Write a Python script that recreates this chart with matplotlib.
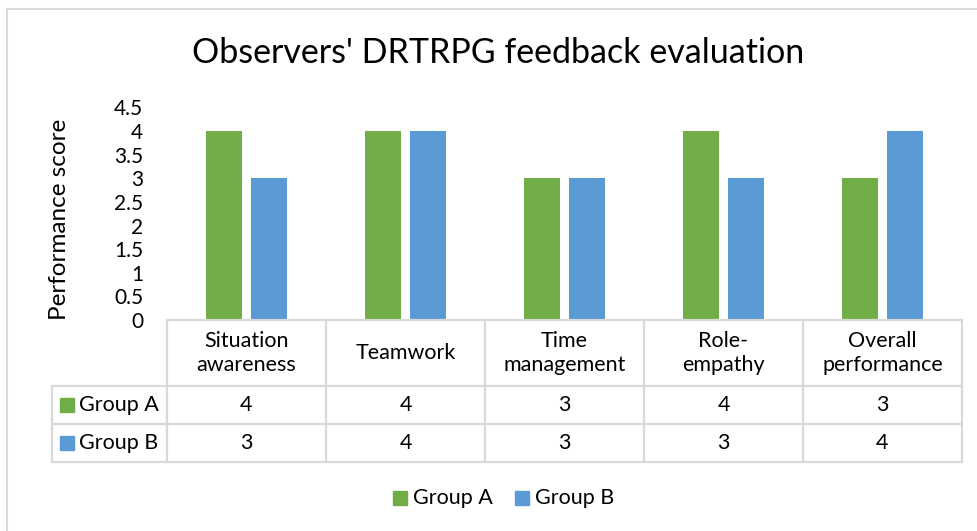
import matplotlib
matplotlib.use("Agg")
import matplotlib.pyplot as plt
import matplotlib.transforms as mtransforms
from matplotlib.lines import Line2D
from matplotlib.patches import Rectangle
import numpy as np

# ---- data ----
categories = ["Situation\nawareness", "Teamwork", "Time\nmanagement", "Role-\nempathy", "Overall\nperformance"]
series_names = ["Group A", "Group B"]
group_a = [4, 4, 3, 4, 3]
group_b = [3, 4, 3, 3, 4]
yticks = [0, 0.5, 1, 1.5, 2, 2.5, 3, 3.5, 4, 4.5]
title = "Observers' DRTRPG feedback evaluation"
ylabel = "Performance score"

green = "#70AD47"
blue = "#5B9BD5"
grid_c = "#D9D9D9"
text_c = "#000000"

plt.rcParams["font.family"] = ["Lato", "DejaVu Sans"]

W, H = 978, 531
fig = plt.figure(figsize=(W / 100, H / 100), dpi=100)

def fx(px):
    return px / W

def fy(py):
    return 1 - py / H

# plot area
ax_l, ax_r, ax_t, ax_b = 167, 962, 107.4, 320
ax = fig.add_axes([fx(ax_l), fy(ax_b), fx(ax_r - ax_l), (ax_b - ax_t) / H])

x = np.arange(len(categories))
bw = 0.2264
off = 0.1415
ax.bar(x - off, group_a, width=bw, color=green, zorder=3)
ax.bar(x + off, group_b, width=bw, color=blue, zorder=3)

ax.set_xlim(-0.5, len(categories) - 0.5)
ax.set_ylim(0, 4.5)
ax.set_yticks(yticks)
ax.set_yticklabels([f"{t:g}" for t in yticks], fontsize=15)
ax.tick_params(axis="y", length=0, pad=17)
ax.set_xticks([])
for s in ax.spines.values():
    s.set_visible(False)
ax.patch.set_alpha(0)

fig.text(fx(60), fy(219), ylabel, rotation=90, ha="center", va="center",
         fontsize=17.5, color=text_c)

fig.text(fx(498), fy(53), title, ha="center", va="center", fontsize=24.5, color=text_c)

# ---- data table under the axis ----
bt = mtransforms.blended_transform_factory(ax.transData, fig.transFigure)
row_tops = [320, 386, 424, 462]
lbl_left = 52
lw = 1.6

def hline(y, x0_fig, x1_fig):
    fig.add_artist(Line2D([x0_fig, x1_fig], [fy(y), fy(y)], color=grid_c, lw=lw,
                          transform=fig.transFigure))

# horizontal lines
hline(row_tops[0], fx(ax_l), fx(ax_r))
for y in row_tops[1:]:
    hline(y, fx(lbl_left), fx(ax_r))

# vertical lines between categories
for i in range(len(categories) + 1):
    xv = i - 0.5
    fig.add_artist(Line2D([xv, xv], [fy(row_tops[0]), fy(row_tops[-1])], color=grid_c,
                          lw=lw, transform=bt))
fig.add_artist(Line2D([fx(lbl_left), fx(lbl_left)], [fy(row_tops[1]), fy(row_tops[-1])],
                      color=grid_c, lw=lw, transform=fig.transFigure))

cell_fs = 15.5
for i, c in enumerate(categories):
    fig.text(i, fy((row_tops[0] + row_tops[1]) / 2), c, transform=bt, ha="center",
             va="center", fontsize=cell_fs, color=text_c, linespacing=1.3)
for r, (name, vals, col) in enumerate(zip(series_names, [group_a, group_b], [green, blue])):
    yc = (row_tops[r + 1] + row_tops[r + 2]) / 2
    for i, v in enumerate(vals):
        fig.text(i, fy(yc), f"{v:g}", transform=bt, ha="center", va="center",
                 fontsize=cell_fs, color=text_c)
    fig.add_artist(Rectangle((fx(60), fy(yc + 7)), fx(14), 14 / H, color=col,
                             transform=fig.transFigure))
    fig.text(fx(79), fy(yc), name, ha="left", va="center", fontsize=cell_fs, color=text_c)

# ---- legend ----
leg_y = 498
for xs, name, col in [(393, series_names[0], green), (515, series_names[1], blue)]:
    fig.add_artist(Rectangle((fx(xs), fy(leg_y + 7)), fx(14), 14 / H, color=col,
                             transform=fig.transFigure))
    fig.text(fx(xs + 20), fy(leg_y), name, ha="left", va="center", fontsize=cell_fs,
             color=text_c)

# chart area border (top and left edges)
fig.add_artist(Line2D([fx(7), 1], [fy(8.5), fy(8.5)], color=grid_c, lw=1.5,
                      transform=fig.transFigure))
fig.add_artist(Line2D([fx(7), fx(7)], [fy(8.5), 0], color=grid_c, lw=1.5,
                      transform=fig.transFigure))

fig.savefig("out.png", dpi=100)
